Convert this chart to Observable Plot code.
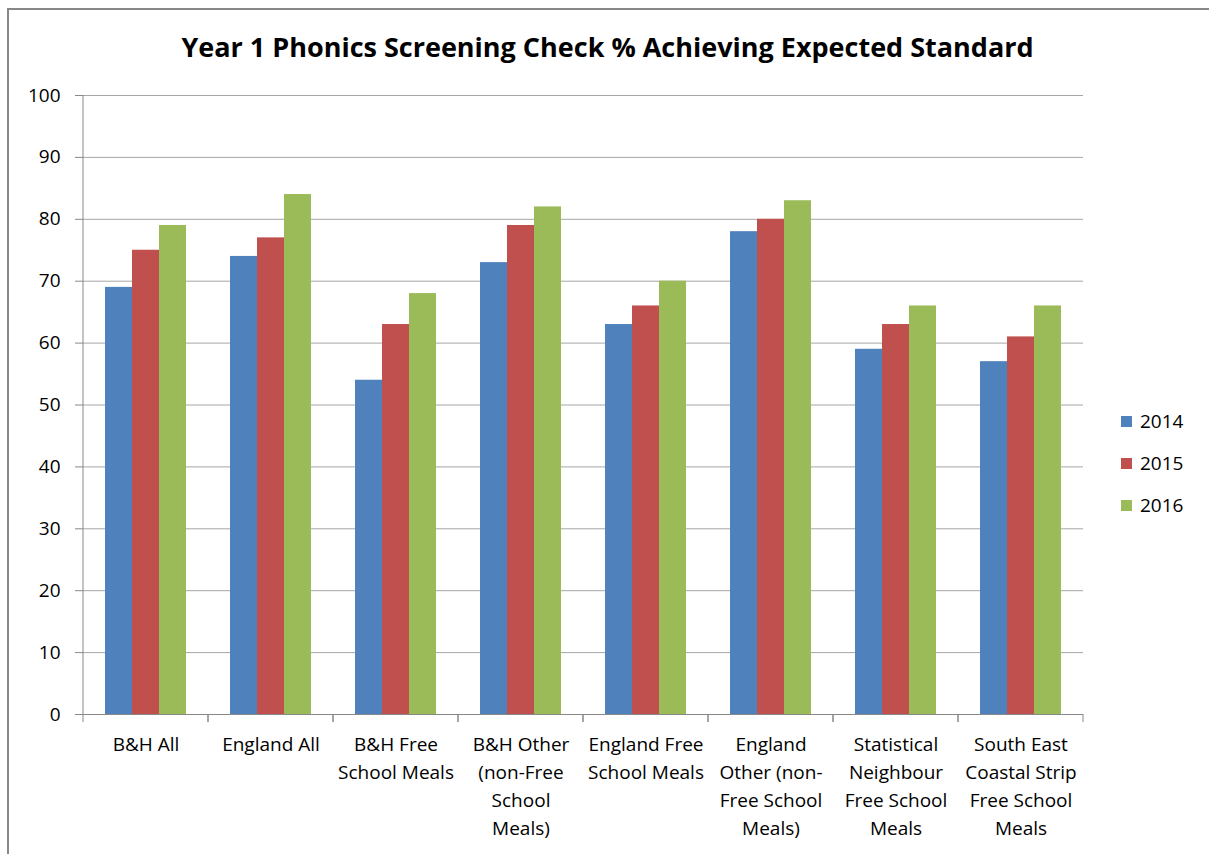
<!DOCTYPE html>
<html>
<head>
<meta charset="utf-8">
<script src="https://cdn.jsdelivr.net/npm/d3@7"></script>
<script src="https://cdn.jsdelivr.net/npm/@observablehq/plot@0.6"></script>
<style>
  html, body { margin: 0; padding: 0; background: #fff; }
  body { width: 1209px; height: 854px; position: relative; overflow: hidden; font-family: "Open Sans", sans-serif; }
  #border { position: absolute; left: 7px; top: 8px; right: -10px; bottom: -10px; border-top: 2px solid #888; border-left: 2px solid #888; }
  #title { position: absolute; left: 0; width: 1215px; top: 27px; text-align: center; font-weight: bold; font-size: 27px; color: #000; line-height: 40px; }
  #chart { position: absolute; left: 0; top: 0; }
  #legend { position: absolute; left: 1121px; top: 400px; font-size: 19px; color: #000; }
  .item { display: flex; align-items: center; height: 42px; }
  .sw { width: 11px; height: 11px; margin-right: 8px; }
</style>
</head>
<body>
<div id="border"></div>
<div id="chart"></div>
<div id="title">Year 1 Phonics Screening Check % Achieving Expected Standard</div>
<div id="legend"></div>
<script>
const categories = [
  "B&H All",
  "England All",
  "B&H Free\nSchool Meals",
  "B&H Other\n(non-Free\nSchool\nMeals)",
  "England Free\nSchool Meals",
  "England\nOther (non-\nFree School\nMeals)",
  "Statistical\nNeighbour\nFree School\nMeals",
  "South East\nCoastal Strip\nFree School\nMeals"
];
const years = ["2014", "2015", "2016"];
const values2014 = [69, 74, 54, 73, 63, 78, 59, 57];
const values2015 = [75, 77, 63, 79, 66, 80, 63, 61];
const values2016 = [79, 84, 68, 82, 70, 83, 66, 66];
const yTicks = [0, 10, 20, 30, 40, 50, 60, 70, 80, 90, 100];
const colors = ["#4F81BD", "#C0504D", "#9BBB59"];

const series = [values2014, values2015, values2016];
const rows = categories.flatMap((cat, i) => years.map((year, j) => ({cat, year, value: series[j][i]})));

const axisColor = "#888";

// tick marks at facet (category) boundaries on the x axis, plus the y axis line
const edgeTicks = Plot.ruleY(categories, {
  fx: d => d,
  y: () => 0,
  render: (index, scales, values, dimensions, context) => {
    const g = d3.create("svg:g");
    const y0 = scales.y(0);
    const xl = dimensions.marginLeft;
    const xr = dimensions.width - dimensions.marginRight;
    for (const x of [xl, xr]) {
      g.append("line")
        .attr("x1", x).attr("x2", x)
        .attr("y1", y0).attr("y2", y0 + 8)
        .attr("stroke", axisColor).attr("stroke-width", 1);
    }
    if (index.length && categories[index[0]] === categories[0]) {
      g.append("line")
        .attr("x1", xl).attr("x2", xl)
        .attr("y1", scales.y(100)).attr("y2", y0)
        .attr("stroke", axisColor).attr("stroke-width", 1);
    }
    return g.node();
  }
});

const chart = Plot.plot({
  width: 1209,
  height: 854,
  marginLeft: 80,
  marginRight: 124,
  marginTop: 95,
  marginBottom: 140,
  style: {fontFamily: "'Open Sans', sans-serif", fontSize: "19px", color: "#000", background: "transparent"},
  fx: {domain: categories, padding: 0, axis: null},
  x: {domain: years, paddingInner: 0, paddingOuter: 0.75, axis: null},
  y: {domain: [0, 100], axis: null},
  color: {domain: years, range: colors},
  marks: [
    Plot.gridY(yTicks.filter(d => d > 0), {stroke: "#a6a6a6", strokeOpacity: 1, strokeWidth: 1}),
    Plot.barY(rows, {fx: "cat", x: "year", y: "value", fill: "year"}),
    Plot.ruleY([0], {stroke: axisColor, strokeWidth: 1}),
    edgeTicks,
    Plot.axisY(yTicks, {tickSize: 8, tickPadding: 15, stroke: axisColor, label: null, fill: "#000"}),
    Plot.axisFx({anchor: "bottom", tickSize: 0, tickPadding: 17, lineHeight: 1.47, label: null, fill: "#000"})
  ]
});
document.getElementById("chart").appendChild(chart);

const legend = document.getElementById("legend");
years.forEach((y, i) => {
  const item = document.createElement("div");
  item.className = "item";
  const sw = document.createElement("div");
  sw.className = "sw";
  sw.style.background = colors[i];
  const label = document.createElement("span");
  label.textContent = y;
  item.appendChild(sw);
  item.appendChild(label);
  legend.appendChild(item);
});
</script>
</body>
</html>
